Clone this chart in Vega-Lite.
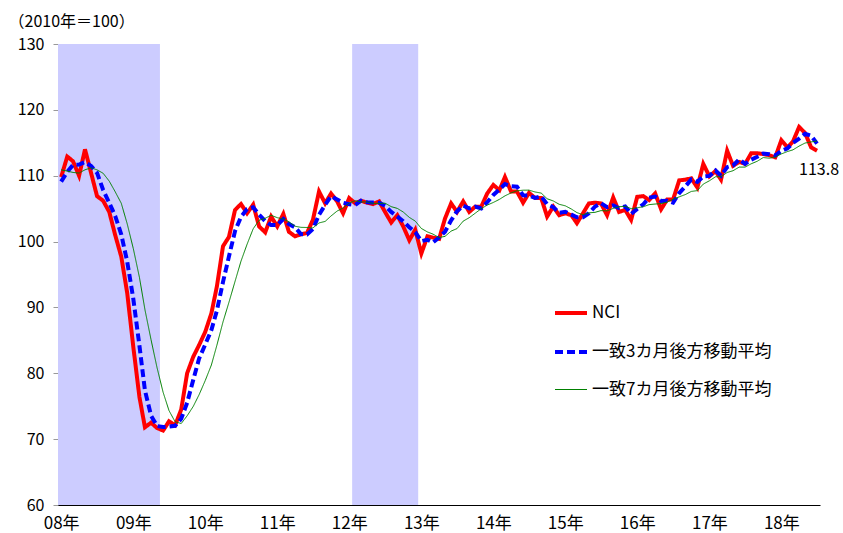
{
  "$schema": "https://vega.github.io/schema/vega-lite/v6.json",
  "width": 762,
  "height": 461,
  "autosize": "none",
  "padding": {"left": 58, "top": 44, "right": 23, "bottom": 28},
  "background": "#ffffff",
  "config": {
    "view": {"stroke": null},
    "font": "Noto Sans CJK JP",
    "axis": {"grid": false}
  },
  "datasets": {
    "recession": [
      {"start": "2007-12-16", "end": "2009-05-16"},
      {"start": "2012-01-16", "end": "2012-12-16"}
    ],
    "index": [
      {"date": "2008-01", "nci": 109.8, "ma3": 109.1, "ma7": 110.9},
      {"date": "2008-02", "nci": 112.9, "ma3": 110.6, "ma7": 110.7},
      {"date": "2008-03", "nci": 112.2, "ma3": 111.63, "ma7": 110.5},
      {"date": "2008-04", "nci": 110.0, "ma3": 111.7, "ma7": 110.4},
      {"date": "2008-05", "nci": 114.0, "ma3": 112.07, "ma7": 110.9},
      {"date": "2008-06", "nci": 110.4, "ma3": 111.47, "ma7": 111.2},
      {"date": "2008-07", "nci": 106.9, "ma3": 110.43, "ma7": 110.89},
      {"date": "2008-08", "nci": 106.2, "ma3": 107.83, "ma7": 110.37},
      {"date": "2008-09", "nci": 104.5, "ma3": 105.87, "ma7": 109.17},
      {"date": "2008-10", "nci": 101.0, "ma3": 103.9, "ma7": 107.57},
      {"date": "2008-11", "nci": 97.7, "ma3": 101.07, "ma7": 105.81},
      {"date": "2008-12", "nci": 92.2, "ma3": 96.97, "ma7": 102.7},
      {"date": "2009-01", "nci": 84.0, "ma3": 91.3, "ma7": 98.93},
      {"date": "2009-02", "nci": 76.4, "ma3": 84.2, "ma7": 94.57},
      {"date": "2009-03", "nci": 71.8, "ma3": 77.4, "ma7": 89.66},
      {"date": "2009-04", "nci": 72.5, "ma3": 73.57, "ma7": 85.09},
      {"date": "2009-05", "nci": 71.7, "ma3": 72.0, "ma7": 80.9},
      {"date": "2009-06", "nci": 71.3, "ma3": 71.83, "ma7": 77.13},
      {"date": "2009-07", "nci": 72.7, "ma3": 71.9, "ma7": 74.34},
      {"date": "2009-08", "nci": 72.1, "ma3": 72.03, "ma7": 72.64},
      {"date": "2009-09", "nci": 74.5, "ma3": 73.1, "ma7": 72.37},
      {"date": "2009-10", "nci": 80.0, "ma3": 75.53, "ma7": 73.54},
      {"date": "2009-11", "nci": 82.5, "ma3": 79.0, "ma7": 74.97},
      {"date": "2009-12", "nci": 84.3, "ma3": 82.27, "ma7": 76.77},
      {"date": "2010-01", "nci": 86.3, "ma3": 84.37, "ma7": 78.91},
      {"date": "2010-02", "nci": 89.1, "ma3": 86.57, "ma7": 81.26},
      {"date": "2010-03", "nci": 93.2, "ma3": 89.53, "ma7": 84.27},
      {"date": "2010-04", "nci": 99.3, "ma3": 93.87, "ma7": 87.81},
      {"date": "2010-05", "nci": 100.7, "ma3": 97.73, "ma7": 90.77},
      {"date": "2010-06", "nci": 104.8, "ma3": 101.6, "ma7": 93.96},
      {"date": "2010-07", "nci": 105.7, "ma3": 103.73, "ma7": 97.01},
      {"date": "2010-08", "nci": 104.3, "ma3": 104.93, "ma7": 99.59},
      {"date": "2010-09", "nci": 105.6, "ma3": 105.2, "ma7": 101.94},
      {"date": "2010-10", "nci": 102.3, "ma3": 104.07, "ma7": 103.24},
      {"date": "2010-11", "nci": 101.4, "ma3": 103.1, "ma7": 103.54},
      {"date": "2010-12", "nci": 103.8, "ma3": 102.5, "ma7": 103.99},
      {"date": "2011-01", "nci": 102.3, "ma3": 102.5, "ma7": 103.63},
      {"date": "2011-02", "nci": 104.2, "ma3": 103.43, "ma7": 103.41},
      {"date": "2011-03", "nci": 101.5, "ma3": 102.67, "ma7": 103.01},
      {"date": "2011-04", "nci": 100.8, "ma3": 102.17, "ma7": 102.33},
      {"date": "2011-05", "nci": 101.1, "ma3": 101.13, "ma7": 102.16},
      {"date": "2011-06", "nci": 101.3, "ma3": 101.07, "ma7": 102.14},
      {"date": "2011-07", "nci": 103.3, "ma3": 101.9, "ma7": 102.07},
      {"date": "2011-08", "nci": 107.6, "ma3": 104.07, "ma7": 102.83},
      {"date": "2011-09", "nci": 105.8, "ma3": 105.57, "ma7": 103.06},
      {"date": "2011-10", "nci": 107.3, "ma3": 106.9, "ma7": 103.89},
      {"date": "2011-11", "nci": 106.1, "ma3": 106.4, "ma7": 104.64},
      {"date": "2011-12", "nci": 104.3, "ma3": 105.9, "ma7": 105.1},
      {"date": "2012-01", "nci": 106.6, "ma3": 105.67, "ma7": 105.86},
      {"date": "2012-02", "nci": 105.8, "ma3": 105.57, "ma7": 106.21},
      {"date": "2012-03", "nci": 106.2, "ma3": 106.2, "ma7": 106.01},
      {"date": "2012-04", "nci": 105.9, "ma3": 105.97, "ma7": 106.03},
      {"date": "2012-05", "nci": 105.7, "ma3": 105.93, "ma7": 105.8},
      {"date": "2012-06", "nci": 106.1, "ma3": 105.9, "ma7": 105.8},
      {"date": "2012-07", "nci": 104.5, "ma3": 105.43, "ma7": 105.83},
      {"date": "2012-08", "nci": 102.9, "ma3": 104.5, "ma7": 105.3},
      {"date": "2012-09", "nci": 104.0, "ma3": 103.8, "ma7": 105.04},
      {"date": "2012-10", "nci": 102.3, "ma3": 103.07, "ma7": 104.49},
      {"date": "2012-11", "nci": 100.2, "ma3": 102.17, "ma7": 103.67},
      {"date": "2012-12", "nci": 101.8, "ma3": 101.43, "ma7": 103.11},
      {"date": "2013-01", "nci": 98.2, "ma3": 100.07, "ma7": 101.99},
      {"date": "2013-02", "nci": 100.8, "ma3": 100.27, "ma7": 101.46},
      {"date": "2013-03", "nci": 100.6, "ma3": 99.87, "ma7": 101.13},
      {"date": "2013-04", "nci": 100.4, "ma3": 100.6, "ma7": 100.61},
      {"date": "2013-05", "nci": 103.5, "ma3": 101.5, "ma7": 100.79},
      {"date": "2013-06", "nci": 105.8, "ma3": 103.23, "ma7": 101.59},
      {"date": "2013-07", "nci": 104.5, "ma3": 104.6, "ma7": 101.97},
      {"date": "2013-08", "nci": 106.1, "ma3": 105.47, "ma7": 103.1},
      {"date": "2013-09", "nci": 104.5, "ma3": 105.03, "ma7": 103.63},
      {"date": "2013-10", "nci": 105.3, "ma3": 105.3, "ma7": 104.3},
      {"date": "2013-11", "nci": 105.3, "ma3": 105.03, "ma7": 105.0},
      {"date": "2013-12", "nci": 107.3, "ma3": 105.97, "ma7": 105.54},
      {"date": "2014-01", "nci": 108.6, "ma3": 107.07, "ma7": 105.94},
      {"date": "2014-02", "nci": 107.8, "ma3": 107.9, "ma7": 106.41},
      {"date": "2014-03", "nci": 109.8, "ma3": 108.73, "ma7": 106.94},
      {"date": "2014-04", "nci": 107.6, "ma3": 108.4, "ma7": 107.39},
      {"date": "2014-05", "nci": 107.6, "ma3": 108.33, "ma7": 107.71},
      {"date": "2014-06", "nci": 105.9, "ma3": 107.03, "ma7": 107.8},
      {"date": "2014-07", "nci": 107.4, "ma3": 106.97, "ma7": 107.81},
      {"date": "2014-08", "nci": 106.6, "ma3": 106.63, "ma7": 107.53},
      {"date": "2014-09", "nci": 106.6, "ma3": 106.87, "ma7": 107.36},
      {"date": "2014-10", "nci": 103.8, "ma3": 105.67, "ma7": 106.5},
      {"date": "2014-11", "nci": 105.3, "ma3": 105.23, "ma7": 106.17},
      {"date": "2014-12", "nci": 104.0, "ma3": 104.37, "ma7": 105.66},
      {"date": "2015-01", "nci": 104.3, "ma3": 104.53, "ma7": 105.43},
      {"date": "2015-02", "nci": 104.0, "ma3": 104.1, "ma7": 104.94},
      {"date": "2015-03", "nci": 102.8, "ma3": 103.7, "ma7": 104.4},
      {"date": "2015-04", "nci": 104.3, "ma3": 103.7, "ma7": 104.07},
      {"date": "2015-05", "nci": 105.8, "ma3": 104.3, "ma7": 104.36},
      {"date": "2015-06", "nci": 105.9, "ma3": 105.33, "ma7": 104.44},
      {"date": "2015-07", "nci": 105.8, "ma3": 105.83, "ma7": 104.7},
      {"date": "2015-08", "nci": 104.0, "ma3": 105.23, "ma7": 104.66},
      {"date": "2015-09", "nci": 106.7, "ma3": 105.5, "ma7": 105.04},
      {"date": "2015-10", "nci": 104.5, "ma3": 105.07, "ma7": 105.29},
      {"date": "2015-11", "nci": 104.8, "ma3": 105.33, "ma7": 105.36},
      {"date": "2015-12", "nci": 103.3, "ma3": 104.2, "ma7": 105.0},
      {"date": "2016-01", "nci": 106.8, "ma3": 104.97, "ma7": 105.13},
      {"date": "2016-02", "nci": 106.9, "ma3": 105.67, "ma7": 105.29},
      {"date": "2016-03", "nci": 106.3, "ma3": 106.67, "ma7": 105.61},
      {"date": "2016-04", "nci": 107.3, "ma3": 106.83, "ma7": 105.7},
      {"date": "2016-05", "nci": 104.9, "ma3": 106.17, "ma7": 105.76},
      {"date": "2016-06", "nci": 106.4, "ma3": 106.2, "ma7": 105.99},
      {"date": "2016-07", "nci": 106.4, "ma3": 105.9, "ma7": 106.43},
      {"date": "2016-08", "nci": 109.3, "ma3": 107.37, "ma7": 106.79},
      {"date": "2016-09", "nci": 109.4, "ma3": 108.37, "ma7": 107.14},
      {"date": "2016-10", "nci": 109.6, "ma3": 109.43, "ma7": 107.61},
      {"date": "2016-11", "nci": 108.2, "ma3": 109.07, "ma7": 107.74},
      {"date": "2016-12", "nci": 111.8, "ma3": 109.87, "ma7": 108.73},
      {"date": "2017-01", "nci": 109.9, "ma3": 109.97, "ma7": 109.23},
      {"date": "2017-02", "nci": 110.7, "ma3": 110.8, "ma7": 109.84},
      {"date": "2017-03", "nci": 109.4, "ma3": 110.0, "ma7": 109.86},
      {"date": "2017-04", "nci": 113.8, "ma3": 111.3, "ma7": 110.49},
      {"date": "2017-05", "nci": 111.5, "ma3": 111.57, "ma7": 110.76},
      {"date": "2017-06", "nci": 112.1, "ma3": 112.47, "ma7": 111.31},
      {"date": "2017-07", "nci": 111.8, "ma3": 111.8, "ma7": 111.31},
      {"date": "2017-08", "nci": 113.4, "ma3": 112.43, "ma7": 111.81},
      {"date": "2017-09", "nci": 113.4, "ma3": 112.87, "ma7": 112.2},
      {"date": "2017-10", "nci": 113.3, "ma3": 113.37, "ma7": 112.76},
      {"date": "2017-11", "nci": 113.1, "ma3": 113.27, "ma7": 112.66},
      {"date": "2017-12", "nci": 112.8, "ma3": 113.07, "ma7": 112.84},
      {"date": "2018-01", "nci": 115.4, "ma3": 113.77, "ma7": 113.31},
      {"date": "2018-02", "nci": 114.3, "ma3": 114.17, "ma7": 113.67},
      {"date": "2018-03", "nci": 115.2, "ma3": 114.97, "ma7": 113.93},
      {"date": "2018-04", "nci": 117.4, "ma3": 115.63, "ma7": 114.5},
      {"date": "2018-05", "nci": 116.5, "ma3": 116.37, "ma7": 114.96},
      {"date": "2018-06", "nci": 114.3, "ma3": 116.07, "ma7": 115.13},
      {"date": "2018-07", "nci": 113.8, "ma3": 114.87, "ma7": 115.27}
    ]
  },
  "layer": [
    {
      "data": {"name": "recession"},
      "mark": {"type": "rect", "color": "#CCCCFF"},
      "encoding": {
        "x": {
          "field": "start",
          "type": "temporal",
          "scale": {
            "type": "utc",
            "domain": [
              {"year": 2007, "month": 12, "date": 16, "utc": true},
              {"year": 2018, "month": 7, "date": 16, "utc": true}
            ]
          },
          "axis": {
            "title": null,
            "tickCount": {"interval": "year", "step": 1},
            "labelExpr": "utcFormat(datum.value, '%y') + '年'",
            "ticks": false,
            "tickSize": 0,
            "labelPadding": 10,
            "labelFontSize": 17,
            "labelColor": "#000000",
            "labelFlush": false,
            "labelOverlap": false,
            "domainColor": "#000000",
            "domainWidth": 1
          }
        },
        "x2": {"field": "end"},
        "y": {
          "datum": 60,
          "type": "quantitative",
          "scale": {"domain": [60, 130], "nice": false, "zero": false},
          "axis": {
            "title": "（2010年＝100）",
            "titleAngle": 0,
            "titleAlign": "left",
            "titleBaseline": "middle",
            "titleX": -50,
            "titleY": -23,
            "titleFontSize": 16,
            "titleFontWeight": "normal",
            "titleColor": "#000000",
            "values": [60, 70, 80, 90, 100, 110, 120, 130],
            "tickSize": 5,
            "tickColor": "#999999",
            "labelPadding": 9,
            "labelFontSize": 16,
            "labelColor": "#000000",
            "labelFlush": false,
            "domainColor": "#000000",
            "domainWidth": 1
          }
        },
        "y2": {"datum": 130}
      }
    },
    {
      "data": {"name": "index"},
      "transform": [{"fold": ["nci", "ma3", "ma7"], "as": ["series", "value"]}],
      "mark": {"type": "line"},
      "encoding": {
        "x": {"field": "date", "type": "temporal"},
        "y": {"field": "value", "type": "quantitative"},
        "color": {
          "field": "series",
          "type": "nominal",
          "scale": {"domain": ["nci", "ma3", "ma7"], "range": ["#FF0000", "#0000FF", "#008000"]},
          "legend": {
            "title": null,
            "orient": "none",
            "legendX": 495,
            "legendY": 251,
            "padding": 0,
            "symbolType": "stroke",
            "symbolSize": 1024,
            "labelFontSize": 17,
            "labelColor": "#000000",
            "labelOffset": 3,
            "labelLimit": 400,
            "rowPadding": 13,
            "labelExpr": "datum.label == 'nci' ? 'NCI' : datum.label == 'ma3' ? '一致3カ月後方移動平均' : '一致7カ月後方移動平均'"
          }
        },
        "strokeDash": {
          "field": "series",
          "type": "nominal",
          "scale": {"domain": ["nci", "ma3", "ma7"], "range": [[1, 0], [8, 4], [1, 0]]}
        },
        "strokeWidth": {
          "field": "series",
          "type": "nominal",
          "scale": {"type": "ordinal", "domain": ["nci", "ma3", "ma7"], "range": [4, 4, 1]}
        }
      }
    },
    {
      "data": {"name": "index"},
      "transform": [{"filter": "utcyear(datum.date) == 2018 && utcmonth(datum.date) == 6"}],
      "mark": {"type": "text", "dy": 19, "dx": 2, "fontSize": 16, "color": "#000000", "align": "center"},
      "encoding": {
        "x": {"field": "date", "type": "temporal"},
        "y": {"field": "nci", "type": "quantitative"},
        "text": {"field": "nci", "type": "quantitative", "format": ".1f"}
      }
    }
  ]
}
